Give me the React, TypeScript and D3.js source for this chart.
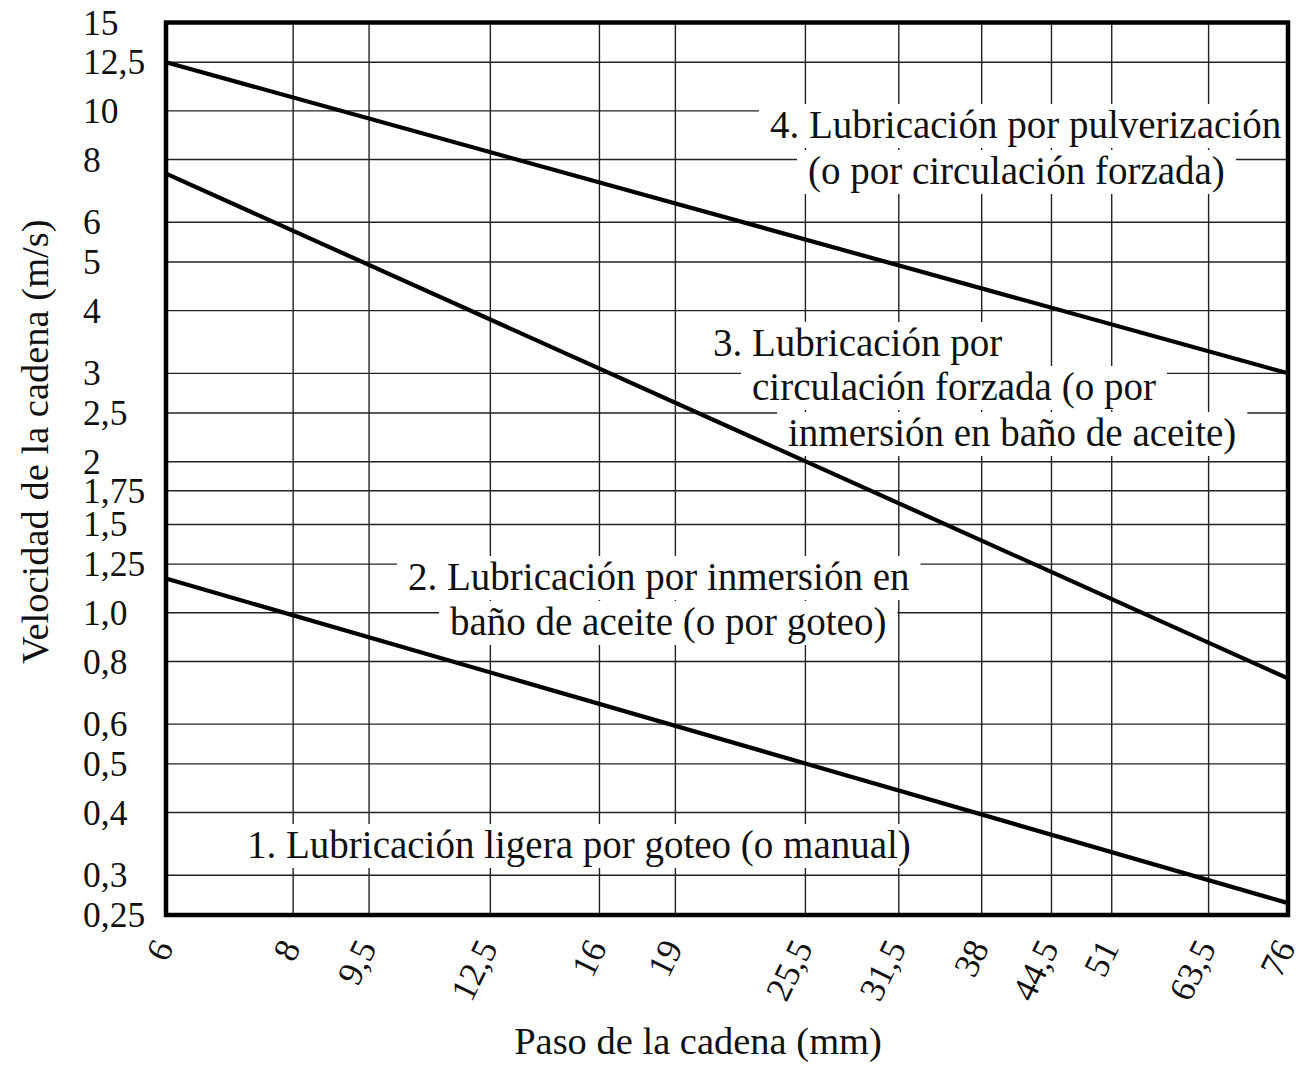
import React, { useEffect, useRef } from "react";
import * as d3 from "d3";

// ---------- data ----------
const pitchTicks = [6, 8, 9.5, 12.5, 16, 19, 25.5, 31.5, 38, 44.5, 51, 63.5, 76];
const pitchTickLabels = ["6", "8", "9,5", "12,5", "16", "19", "25,5", "31,5", "38", "44,5", "51", "63,5", "76"];
const speedTicks = [0.25, 0.3, 0.4, 0.5, 0.6, 0.8, 1.0, 1.25, 1.5, 1.75, 2, 2.5, 3, 4, 5, 6, 8, 10, 12.5, 15];
const speedTickLabels = ["0,25", "0,3", "0,4", "0,5", "0,6", "0,8", "1,0", "1,25", "1,5", "1,75", "2", "2,5", "3", "4", "5", "6", "8", "10", "12,5", "15"];

// each boundary line: speeds at the two ends of the pitch range
const pitchEnds = [6, 76];
const boundary1to2 = [1.17, 0.264];
const boundary2to3 = [7.5, 0.74];
const boundary3to4 = [12.5, 3.0];

const regionLabels = [
  ["4. Lubricación por pulverización", "(o por circulación forzada)"],
  ["3. Lubricación por", "circulación forzada (o por", "inmersión en baño de aceite)"],
  ["2. Lubricación por inmersión en", "baño de aceite (o por goteo)"],
  ["1. Lubricación ligera por goteo (o manual)"],
];

const xTitle = "Paso de la cadena (mm)";
const yTitle = "Velocidad de la cadena (m/s)";

// ---------- layout ----------
const W = 1305;
const H = 1066;
const M = { left: 166, right: 1288, top: 22.5, bottom: 915 };
const FONT = "'Liberation Serif', 'Times New Roman', serif";
// label line positions: [startX, baselineY] per line
const labelPos = [
  [[770, 138], [808, 184]],
  [[713, 356], [752, 400], [788, 446]],
  [[408, 590], [450, 635]],
  [[247, 858]],
];

export default function App() {
  const ref = useRef<SVGSVGElement | null>(null);

  useEffect(() => {
    const svg = d3.select(ref.current);
    svg.selectAll("*").remove();

    const x = d3.scaleLog().domain([6, 76]).range([M.left, M.right]);
    const y = d3.scaleLog().domain([0.25, 15]).range([M.bottom, M.top]);

    svg.append("rect").attr("width", W).attr("height", H).attr("fill", "#fff");

    // grid
    const grid = svg.append("g").attr("stroke", "#222").attr("stroke-width", 1.4);
    grid
      .selectAll("line.v")
      .data(pitchTicks)
      .join("line")
      .attr("x1", (d) => x(d))
      .attr("x2", (d) => x(d))
      .attr("y1", M.top)
      .attr("y2", M.bottom);
    grid
      .selectAll("line.h")
      .data(speedTicks)
      .join("line")
      .attr("class", "h")
      .attr("x1", M.left)
      .attr("x2", M.right)
      .attr("y1", (d) => y(d))
      .attr("y2", (d) => y(d));

    // label knockouts + text
    const labelG = svg.append("g");
    const boxG = labelG.append("g");
    const textG = labelG.append("g");
    regionLabels.forEach((lines, i) => {
      lines.forEach((t, j) => {
        const [px, py] = labelPos[i][j];
        const txt = textG
          .append("text")
          .attr("x", px)
          .attr("y", py)
          .attr("font-family", FONT)
          .attr("font-size", 39)
          .attr("fill", "#111")
          .text(t);
        const bb = (txt.node() as SVGTextElement).getBBox();
        boxG
          .append("rect")
          .attr("x", bb.x - 11)
          .attr("y", py - 34)
          .attr("width", bb.width + 22)
          .attr("height", 44)
          .attr("fill", "#fff");
      });
    });

    // boundary lines
    const line = d3
      .line<number>()
      .x((_, i) => x(pitchEnds[i]))
      .y((d) => y(d));
    [boundary1to2, boundary2to3, boundary3to4].forEach((b) => {
      svg
        .append("path")
        .attr("d", line(b))
        .attr("fill", "none")
        .attr("stroke", "#000")
        .attr("stroke-width", 4.2);
    });

    // raise text above lines
    (labelG.node() as SVGGElement).parentNode!.appendChild(textG.node() as SVGGElement);

    // frame
    svg
      .append("rect")
      .attr("x", M.left)
      .attr("y", M.top)
      .attr("width", M.right - M.left)
      .attr("height", M.bottom - M.top)
      .attr("fill", "none")
      .attr("stroke", "#000")
      .attr("stroke-width", 4.5);

    // y tick labels
    svg
      .append("g")
      .selectAll("text")
      .data(speedTicks)
      .join("text")
      .attr("x", 83)
      .attr("y", (d) => y(d))
      .attr("dy", "0.34em")
      .attr("font-family", FONT)
      .attr("font-size", 35.5)
      .attr("fill", "#111")
      .text((_, i) => speedTickLabels[i]);

    // x tick labels
    svg
      .append("g")
      .selectAll("text")
      .data(pitchTicks)
      .join("text")
      .attr("transform", (d) => `translate(${x(d) - 3},${M.bottom + 27}) rotate(-64)`)
      .attr("text-anchor", "end")
      .attr("dy", "0.35em")
      .attr("font-family", FONT)
      .attr("font-size", 35.5)
      .attr("fill", "#111")
      .text((_, i) => pitchTickLabels[i]);

    // titles
    svg
      .append("text")
      .attr("x", 698)
      .attr("y", 1054)
      .attr("text-anchor", "middle")
      .attr("font-family", FONT)
      .attr("font-size", 38.5)
      .attr("fill", "#111")
      .text(xTitle);
    svg
      .append("text")
      .attr("transform", `translate(48,${(M.top + M.bottom) / 2 - 27}) rotate(-90)`)
      .attr("text-anchor", "middle")
      .attr("font-family", FONT)
      .attr("font-size", 38.5)
      .attr("fill", "#111")
      .text(yTitle);
  }, []);

  return (
    <svg
      ref={ref}
      width={W}
      height={H}
      style={{ position: "absolute", left: 0, top: 0, display: "block" }}
    />
  );
}
